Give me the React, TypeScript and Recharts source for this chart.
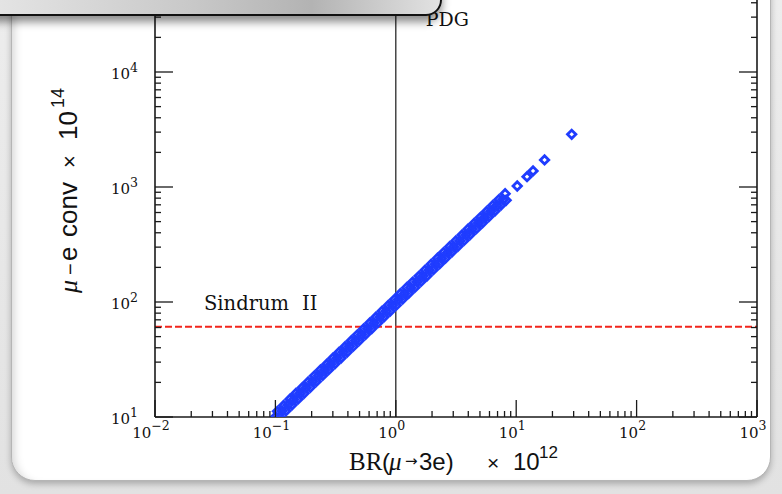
import React from 'react';
import { ScatterChart, Scatter, XAxis, YAxis, ReferenceLine } from 'recharts';

// BR(mu -> 3e) x 10^12
const brValues = [
  0.100, 0.104, 0.108, 0.113, 0.117, 0.122, 0.127, 0.132, 0.137, 0.142,
  0.148, 0.154, 0.160, 0.167, 0.173, 0.180, 0.187, 0.195, 0.203, 0.211,
  0.219, 0.228, 0.237, 0.247, 0.256, 0.267, 0.277, 0.288, 0.300, 0.312,
  0.324, 0.337, 0.351, 0.365, 0.379, 0.395, 0.410, 0.427, 0.444, 0.462,
  0.480, 0.499, 0.519, 0.540, 0.562, 0.584, 0.608, 0.632, 0.657, 0.683,
  0.711, 0.739, 0.769, 0.799, 0.831, 0.865, 0.899, 0.935, 0.973, 1.01,
  1.05, 1.09, 1.14, 1.18, 1.23, 1.28, 1.33, 1.38, 1.44, 1.50,
  1.56, 1.62, 1.68, 1.75, 1.82, 1.89, 1.97, 2.05, 2.13, 2.22,
  2.31, 2.40, 2.49, 2.59, 2.70, 2.80, 2.92, 3.03, 3.15, 3.28,
  3.41, 3.55, 3.69, 3.84, 3.99, 4.15, 4.32, 4.49, 4.67, 4.86,
  5.05, 5.25, 5.46, 5.68, 5.91, 6.15, 6.39, 6.65, 6.91, 7.19,
  7.48, 7.78, 8.09, 8.25,
  10.2, 12.3, 13.8, 17.2, 28.9,
];

// mu-e conversion x 10^14
const convValues = [
  10.0, 11.2, 10.0, 11.3, 12.6, 11.3, 12.7, 14.3, 12.7, 14.2,
  16.0, 14.3, 16.0, 18.0, 16.1, 18.0, 20.2, 18.1, 20.3, 22.8,
  20.4, 22.8, 25.6, 23.0, 25.6, 28.8, 25.8, 28.8, 32.4, 29.0,
  32.4, 36.4, 32.6, 36.5, 40.9, 36.7, 41.0, 46.1, 41.3, 46.2,
  51.8, 46.4, 51.9, 58.3, 52.3, 58.4, 65.7, 58.8, 65.7, 73.8,
  66.1, 73.9, 83.1, 74.3, 83.1, 93.4, 83.6, 93.5, 105, 93.9,
  105, 118, 106, 118, 133, 119, 133, 149, 134, 150,
  168, 151, 168, 189, 169, 189, 213, 191, 213, 240,
  215, 240, 269, 241, 270, 302, 272, 303, 340, 305,
  341, 383, 343, 384, 431, 386, 432, 485, 434, 486,
  545, 488, 546, 613, 550, 615, 690, 618, 691, 777,
  696, 778, 874, 767,
  1020, 1230, 1380, 1720, 2870,
];

const sindrumLimit = 61;
const pdgLimit = 1;
const sindrumLabel = ['Sindrum', 'II'];
const pdgLabel = 'PDG';

const xMajorExponents = [-2, -1, 0, 1, 2, 3];
const yMajorExponents = [1, 2, 3, 4];
const minorMultipliers = [2, 3, 4, 5, 6, 7, 8, 9];

const points = brValues.map((x, i) => ({ x, y: convValues[i] }));

function buildTicks(exps: number[], minorsAfterLast: boolean) {
  const t: number[] = [];
  exps.forEach((e, i) => {
    t.push(Math.pow(10, e));
    if (i < exps.length - 1 || minorsAfterLast) minorMultipliers.forEach((m) => t.push(m * Math.pow(10, e)));
  });
  return t;
}
const xTicks = buildTicks(xMajorExponents, false);
const yTicks = buildTicks(yMajorExponents, true);

function majorInfo(v: number) {
  const lg = Math.log10(v);
  const e = Math.round(lg);
  return { major: Math.abs(lg - e) < 1e-6, e };
}
const expText = (e: number) => (e < 0 ? '\u2212' + Math.abs(e) : String(e));

const AX = '#1a1a1a';
const SERIF = '"DejaVu Serif", serif';
const SANS = '"Liberation Sans", Arial, sans-serif';
const BLUE = '#1f3cff';

const XTick = (props: any) => {
  const { x, y, payload } = props;
  const { major, e } = majorInfo(payload.value);
  return (
    <g>
      <line x1={x} x2={x} y1={y} y2={y - (major ? 17 : 6)} stroke={AX} strokeWidth={1.3} />
      {major && (
        <text x={x - 4} y={y + 21} textAnchor="middle" fontFamily={SERIF} fontSize={15} fill="#111">
          <tspan>10</tspan>
          <tspan dy={-8} fontSize={12.5}>{expText(e)}</tspan>
        </text>
      )}
    </g>
  );
};

const YTickLeft = (props: any) => {
  const { x, y, payload } = props;
  const { major, e } = majorInfo(payload.value);
  return (
    <g>
      <line x1={x} x2={x + (major ? 18 : 6)} y1={y} y2={y} stroke={AX} strokeWidth={1.3} />
      {major && (
        <text x={x - 17} y={y + 6.5} textAnchor="end" fontFamily={SERIF} fontSize={15} fill="#111">
          <tspan>10</tspan>
          <tspan dy={-6.5} fontSize={12.5}>{expText(e)}</tspan>
        </text>
      )}
    </g>
  );
};

const YTickRight = (props: any) => {
  const { x, y, payload } = props;
  const { major } = majorInfo(payload.value);
  return <line x1={x} x2={x - (major ? 18 : 6)} y1={y} y2={y} stroke={AX} strokeWidth={1.3} />;
};

const Diamond = (props: any) => {
  const { cx, cy } = props;
  if (cx == null || cy == null) return null;
  const r = 4.2;
  return (
    <path
      d={`M${cx},${cy - r}L${cx + r},${cy}L${cx},${cy + r}L${cx - r},${cy}Z`}
      fill="none"
      stroke={BLUE}
      strokeWidth={2.8}
    />
  );
};

const PdgLabel = (props: any) => {
  const vb = props.viewBox || {};
  return (
    <text x={vb.x + 30} y={vb.y + 69} fontFamily={SERIF} fontSize={19} fill="#111">
      {pdgLabel}
    </text>
  );
};

const SindrumLabel = (props: any) => {
  const vb = props.viewBox || {};
  return (
    <text y={vb.y - 16.5} fontFamily={SERIF} fontSize={19.5} fill="#111">
      <tspan x={vb.x + 49}>{sindrumLabel[0]}</tspan>
      <tspan x={vb.x + 147}>{sindrumLabel[1]}</tspan>
    </text>
  );
};

export default function App() {
  return (
    <div
      style={{
        position: 'absolute',
        left: 0,
        top: 0,
        width: 782,
        height: 494,
        overflow: 'hidden',
        background: 'linear-gradient(#ededed, #e2e2e2)',
      }}
    >
      <div
        style={{
          position: 'absolute',
          left: 11,
          top: -40,
          width: 760,
          height: 521,
          boxSizing: 'border-box',
          background: '#ffffff',
          borderRadius: 24,
          border: '1px solid #b5b5b5',
          boxShadow: '0 3px 6px rgba(0,0,0,0.25), inset 9px 0 10px -7px rgba(0,0,0,0.18)',
        }}
      />
      <div style={{ position: 'absolute', left: 0, top: -43 }}>
        <ScatterChart width={782} height={537} margin={{ top: 0, right: 15, bottom: 37, left: 95 }}>
          <XAxis
            type="number"
            dataKey="x"
            scale="log"
            domain={[0.01, 1000]}
            allowDataOverflow
            ticks={xTicks}
            interval={0}
            height={40}
            tickSize={0}
            tickMargin={0}
            tickLine={false}
            axisLine={{ stroke: AX, strokeWidth: 1.6 }}
            tick={<XTick />}
          />
          <YAxis
            yAxisId="left"
            type="number"
            dataKey="y"
            scale="log"
            domain={[10, 100000]}
            allowDataOverflow
            ticks={yTicks}
            interval={0}
            width={60}
            tickSize={0}
            tickMargin={0}
            tickLine={false}
            axisLine={{ stroke: AX, strokeWidth: 1.6 }}
            tick={<YTickLeft />}
          />
          <YAxis
            yAxisId="right"
            orientation="right"
            type="number"
            dataKey="y"
            scale="log"
            domain={[10, 100000]}
            allowDataOverflow
            ticks={yTicks}
            interval={0}
            width={10}
            tickSize={0}
            tickMargin={0}
            tickLine={false}
            axisLine={{ stroke: AX, strokeWidth: 1.6 }}
            tick={<YTickRight />}
          />
          <ReferenceLine
            x={pdgLimit}
            yAxisId="left"
            stroke="#2a2a2a"
            strokeWidth={1.3}
            label={<PdgLabel />}
          />
          <ReferenceLine
            y={sindrumLimit}
            yAxisId="left"
            stroke="#f2251c"
            strokeWidth={2}
            strokeDasharray="7 3"
            label={<SindrumLabel />}
          />
          <Scatter yAxisId="left" data={points} shape={<Diamond />} isAnimationActive={false} />
          <Scatter yAxisId="right" data={[]} isAnimationActive={false} />
        </ScatterChart>
      </div>
      <svg
        width={782}
        height={494}
        style={{ position: 'absolute', left: 0, top: 0, pointerEvents: 'none' }}
      >
        <text fill="#111" fontFamily={SANS} fontSize={24}>
          <tspan x={349} y={470} fontFamily={'"Liberation Serif", serif'} fontSize={25}>BR</tspan>
          <tspan x={382} y={470}>(</tspan>
          <tspan x={389} y={470} fontFamily={'"Liberation Serif", serif'} fontStyle="italic" fontSize={25}>μ</tspan>
          <tspan x={405} y={466} fontFamily={'"DejaVu Sans", sans-serif'} fontSize={15}>→</tspan>
          <tspan x={419} y={470}>3e)</tspan>
          <tspan x={487} y={470} fontSize={21}>×</tspan>
          <tspan x={513} y={470}>10</tspan>
          <tspan x={539} y={458} fontSize={17}>12</tspan>
        </text>
        <text transform="translate(77,293) rotate(-90)" fill="#111" fontFamily={SANS} fontSize={26}>
          <tspan x={0} y={0} fontFamily={'"Liberation Serif", serif'} fontStyle="italic">μ</tspan>
          <tspan x={18} y={0} fontSize={20}>−</tspan>
          <tspan x={32} y={0}>e</tspan>
          <tspan x={56} y={0}>conv</tspan>
          <tspan x={125} y={0} fontSize={22}>×</tspan>
          <tspan x={153} y={0}>10</tspan>
          <tspan x={185} y={-13} fontSize={18}>14</tspan>
        </text>
      </svg>
      <div
        style={{
          position: 'absolute',
          left: -20,
          top: -30,
          width: 462,
          height: 46,
          boxSizing: 'border-box',
          border: '2px solid #111',
          borderBottomRightRadius: 16,
          background: 'linear-gradient(to right, #e6e6e6 0%, #c9c9c9 45%, #b3b3b3 72%, #e2e2e2 100%)',
          boxShadow: '0 6px 9px rgba(0,0,0,0.45)',
        }}
      />
    </div>
  );
}
